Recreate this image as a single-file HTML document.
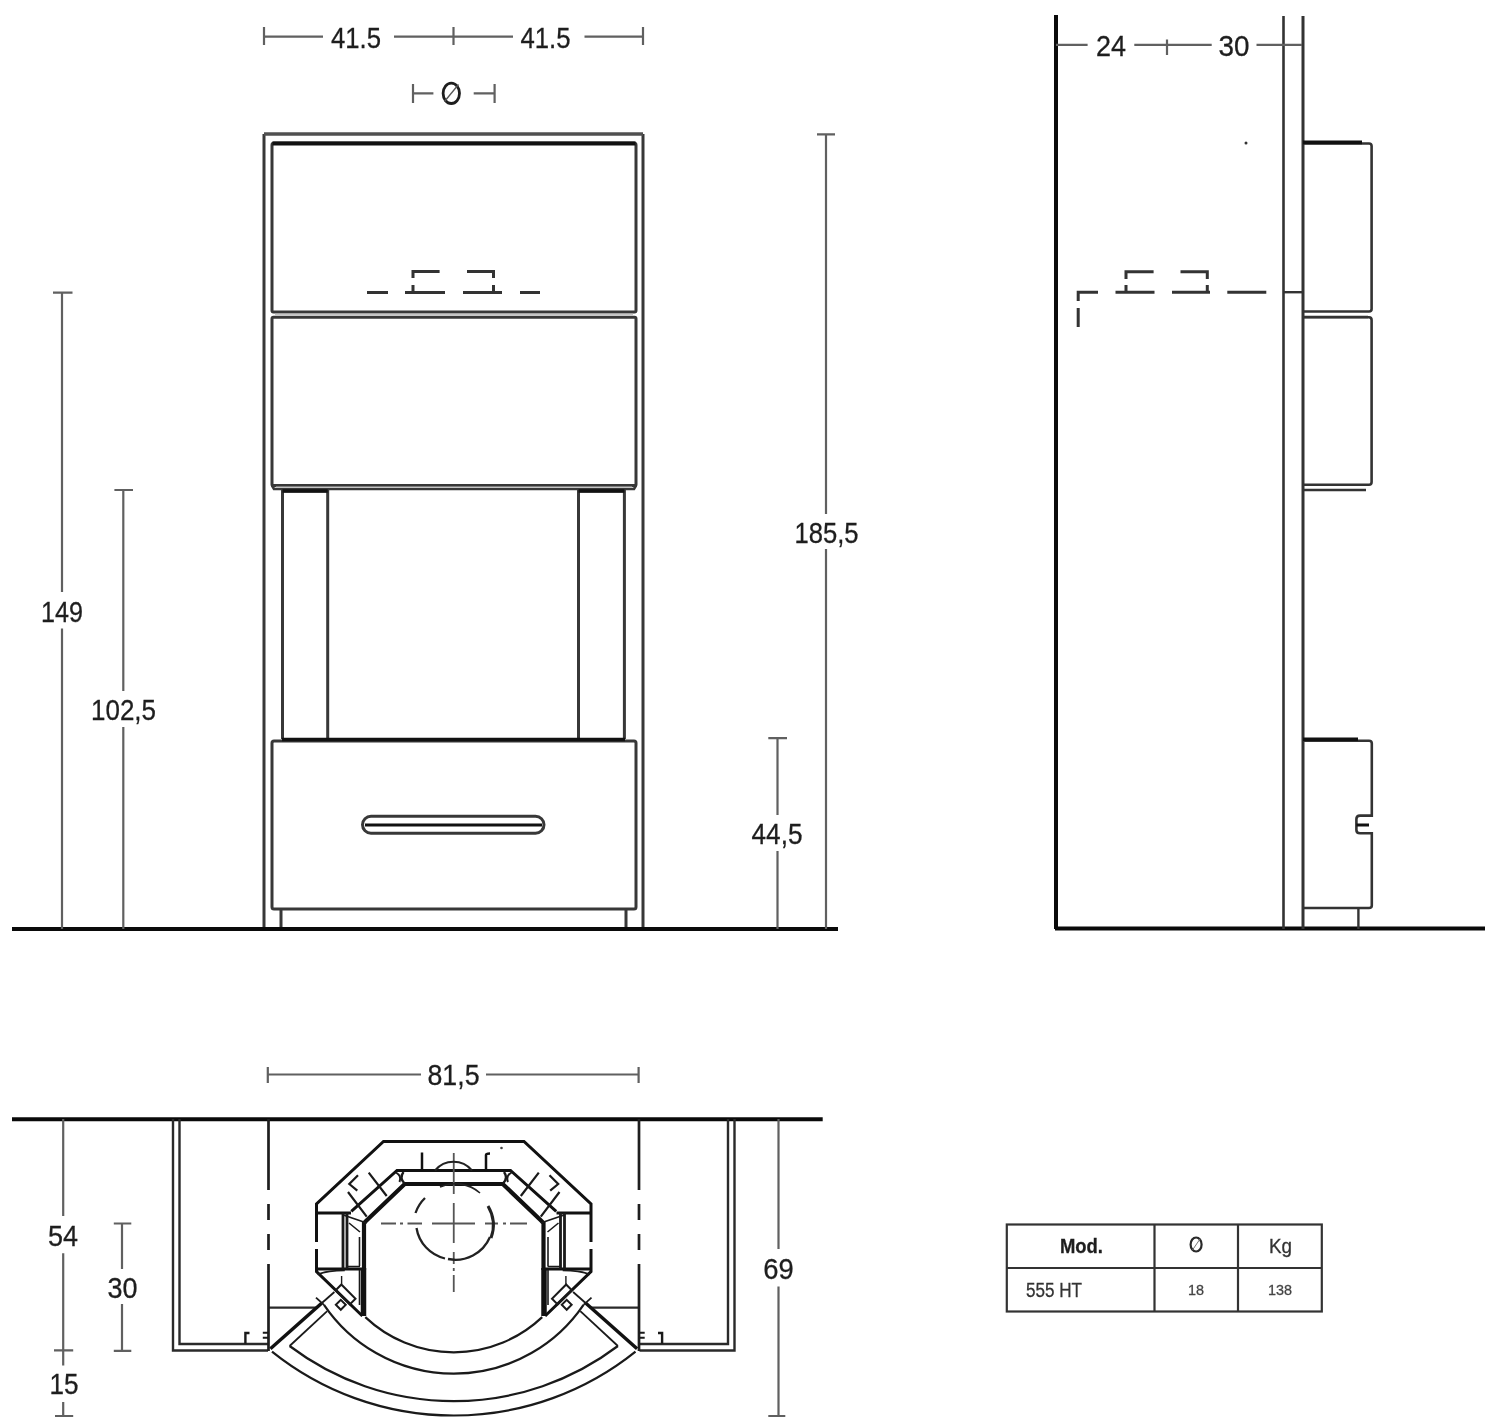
<!DOCTYPE html>
<html><head><meta charset="utf-8">
<style>
.wrap{will-change:transform;}
html,body{margin:0;padding:0;background:#fff;}
svg{display:block;}
text{font-family:"Liberation Sans",sans-serif;fill:#1e1e1e;stroke:#1e1e1e;stroke-width:0.3px;}

</style></head>
<body><div class="wrap">
<svg width="1500" height="1427" viewBox="0 0 1500 1427">
<defs><filter id="soft" x="0" y="0" width="1500" height="1427" filterUnits="userSpaceOnUse"><feGaussianBlur stdDeviation="2"/></filter></defs>
<rect width="1500" height="1427" fill="#fff"/>
<g>
<!-- ===== FRONT VIEW ===== -->
<g fill="none" stroke="#383838" stroke-width="3">
  <!-- outer frame -->
  <path d="M264,929 V134 M643,134 V929"/>
  <!-- panel 1 -->
  <path d="M274,143 H634 Q636,143 636,145 V310.5 Q636,312 634.5,312 H273.5 Q272,312 272,310.5 V145 Q272,143 274,143 Z"/>
  <!-- panel 2 -->
  <path d="M273.5,317.2 H634.5 Q636,317.2 636,318.7 V484.5 Q636,485.5 635,485.5 H273 Q272,485.5 272,484.5 V318.7 Q272,317.2 273.5,317.2 Z"/>
  <path d="M272,485.5 L274,489 H634 L636,485.5" stroke-width="2.6"/>
  <!-- pillars -->
  <path d="M282.5,739 V491 H327.7 V739"/>
  <path d="M578.5,739 V491 H624.4 V739"/>
  <!-- drawer -->
  <path d="M274,741 H634 Q636,741 636,743 V907 Q636,909 634,909 H274 Q272,909 272,907 V743 Q272,741 274,741 Z"/>
  <path d="M281,909 V929 M626,909 V929"/>
  <!-- handle -->
  <path d="M371,816.3 H535.5 A8.5,8.5 0 0 1 535.5,833.3 H371 A8.5,8.5 0 0 1 371,816.3 Z"/>
</g>
<g stroke="#111" fill="none">
  <path d="M264,134 H643" stroke-width="3.4" stroke="#505050"/>
  <path d="M272.5,143.5 H635.5" stroke-width="4.2"/>
  <path d="M282.5,491 H327.7 M578.5,491 H624.4" stroke-width="3.4"/>
  <path d="M282,739.5 H625" stroke-width="3.6"/>
  <path d="M365,825 H542" stroke-width="3.2"/>
</g>
<path d="M275,314.6 H633 M276,487.3 H632" stroke="#c4c4c4" stroke-width="1.6" fill="none"/>
<!-- dashed flue -->
<g stroke="#333" stroke-width="3" fill="none">
  <path d="M367,292.5 H388 M405,292.5 H445 M463,292.5 H502 M520,292.5 H540"/>
  <path d="M413,292.5 V285 M413,278 V271.5 H439.6"/>
  <path d="M493.5,292.5 V285 M493.5,278 V271.5 H467"/>
</g>
<!-- floor -->
<path d="M12,929 H838" stroke="#0a0a0a" stroke-width="4.2"/>

<!-- front dims -->
<g stroke="#606060" stroke-width="2.2" fill="none">
  <path d="M264,36.7 H323 M394,36.7 H513 M584.5,36.7 H643"/>
  <path d="M264,27 V45 M453.5,27 V45 M643,27 V45"/>
  <path d="M413,93.4 H433.4 M473.7,93.4 H494.6 M413,84 V103 M494.6,84 V103"/>
  <path d="M62,292.6 V592 M62,628.4 V929 M53,292.6 H72.5"/>
  <path d="M123.3,490 V691 M123.3,727 V929 M114.4,490 H133"/>
  <path d="M826,134.3 V514 M826,549 V929 M817,134.3 H835"/>
  <path d="M777.5,738.2 V815 M777.5,851 V929 M768.3,738.2 H787"/>
</g>
<g font-size="29.8">
  <text x="331" y="47.9" textLength="50" lengthAdjust="spacingAndGlyphs">41.5</text>
  <text x="520.5" y="47.9" textLength="50" lengthAdjust="spacingAndGlyphs">41.5</text>
  <text x="41" y="621.8" textLength="42" lengthAdjust="spacingAndGlyphs">149</text>
  <text x="91" y="720.1" textLength="65" lengthAdjust="spacingAndGlyphs">102,5</text>
  <text x="794.5" y="542.8" textLength="64" lengthAdjust="spacingAndGlyphs">185,5</text>
  <text x="751.5" y="844" textLength="51" lengthAdjust="spacingAndGlyphs">44,5</text>
</g>
<g fill="none" stroke="#1e1e1e"><ellipse cx="451.3" cy="93.3" rx="8.2" ry="10.2" stroke-width="2.8"/><path d="M444.5,101.5 L458.5,84.5" stroke-width="1.3" stroke="#555"/></g>

<!-- ===== SIDE VIEW ===== -->
<path d="M1056,15 V929" stroke="#0a0a0a" stroke-width="4"/>
<path d="M1055,928.5 H1485" stroke="#0a0a0a" stroke-width="4"/>
<g fill="none" stroke="#333">
  <path d="M1283.5,16 V929" stroke-width="2.6"/>
  <path d="M1303,16 V929" stroke-width="3"/>
  <path d="M1283.5,292.2 H1303" stroke-width="2.4"/>
  <!-- block 1 -->
  <path d="M1303,143.5 H1369 Q1371.6,143.5 1371.6,146 V309 Q1371.6,311.5 1369,311.5 H1303" stroke-width="2.6"/>
  <path d="M1303,317 H1368" stroke-width="2.6"/>
  <!-- block 2 -->
  <path d="M1303,317.2 H1369 Q1371.6,317.2 1371.6,320 V482 Q1371.6,484.8 1369,484.8 H1303" stroke-width="2.6"/>
  <path d="M1303,490 H1366" stroke-width="2.6"/>
  <!-- block 3 -->
  <path d="M1303,740.8 H1369 Q1371.8,740.8 1371.8,743.5 V815.6 H1360 Q1356.4,815.6 1356.4,819 V830 Q1356.4,833.3 1360,833.3 H1371.8 V905.5 Q1371.8,908 1369,908 H1303" stroke-width="2.6"/>
  <path d="M1358.4,908 V929" stroke-width="2.4"/>
</g>
<g stroke="#111" fill="none">
  <path d="M1303,142.4 H1362" stroke-width="3.6"/>
  <path d="M1303,739.3 H1358" stroke-width="3.6"/>
  <path d="M1356.4,825 H1369" stroke-width="3"/>
</g>
<g stroke="#333" stroke-width="3" fill="none">
  <path d="M1078.2,327 V308 M1078.2,301 V292.2 H1098 M1115.5,292.2 H1154.5 M1172,292.2 H1210 M1227.3,292.2 H1266.3"/>
  <path d="M1126,292.2 V285 M1126,279 V271.7 H1153.6"/>
  <path d="M1207.3,292.2 V285 M1207.3,279 V271.7 H1180.5"/>
</g>
<circle cx="1246" cy="143" r="1.5" fill="#333"/>
<g stroke="#606060" stroke-width="2.2" fill="none">
  <path d="M1056,44.8 H1087.6 M1134.3,44.8 H1211.7 M1256.5,44.8 H1302 M1167,39.6 V55"/>
</g>
<g font-size="29.8">
  <text x="1096" y="56" textLength="30" lengthAdjust="spacingAndGlyphs">24</text>
  <text x="1218.6" y="56" textLength="31" lengthAdjust="spacingAndGlyphs">30</text>
</g>

<!-- ===== PLAN VIEW ===== -->
<path d="M12,1119.2 H822.7" stroke="#0a0a0a" stroke-width="4"/>
<g id="half">
<g fill="none" stroke="#2a2a2a" stroke-width="2.4">
  <path d="M173,1119 V1350.5 H268"/>
  <path d="M179.5,1119 V1344 H268"/>
  <path d="M268,1307.6 H317.6" stroke-width="2.2"/>
</g>
<g fill="none" stroke="#111" stroke-width="3">
  <path d="M268.5,1119 V1190 M268.5,1204 V1220 M268.5,1234 V1250 M268.5,1264 V1351" stroke-width="2.7" stroke="#1e1e1e"/>
  <path d="M454,1141.5 H383.5 L316.5,1204 V1242 M316.5,1249 V1271.5 L362.4,1316"/>
  <path d="M454,1170.5 H397 L351.3,1211.3"/>
  <path d="M316.5,1213 H351"/>
  <path d="M316.5,1269 H364"/>
  <path d="M270.4,1348.8 L321.6,1303.2" stroke-width="3.4"/>
</g>
<g fill="none" stroke="#111" stroke-width="4.2">
  <path d="M454,1184 H404.7 L366,1221 L364,1223 V1270"/>
</g>
<path d="M363.5,1268 V1316" stroke="#111" stroke-width="5.5" fill="none"/>
<g fill="none" stroke="#1a1a1a" stroke-width="2.2">
  <path d="M343,1213 V1269 M347,1213 V1269" stroke-width="2.8"/>
  <path d="M348,1192 L366.7,1216.7 M368.7,1172.7 L386.7,1196"/>
  <path d="M403.5,1172 Q399,1178 404.5,1183.5" stroke-width="2.4"/>
  <path d="M396,1172.5 Q402,1176 399.5,1182" stroke-width="2"/>
  <path d="M358,1175.3 L349.3,1184 L357.3,1190.7"/>
  <path d="M343.3,1215 L366.7,1223" stroke-width="1.8"/>
  <path d="M349,1223 L360,1232 M359.5,1237 V1266 M347,1266.5 H360" stroke-width="1.6"/>
  <path d="M359.5,1270 V1305" stroke-width="1.6"/>
  <path d="M317.6,1274.4 Q328,1270.5 344.8,1270.4" stroke-width="1.8"/>
  <path d="M321.6,1303.2 L334.4,1292" stroke-width="1.8"/>
  <path d="M316,1297.6 L324,1304.8" stroke-width="1.8"/>
  <path d="M289.6,1346 L327.2,1311.2" stroke-width="1.8"/>
  <rect x="335.6" y="1290.4" width="20" height="8" transform="rotate(45 345.6 1294.4)" stroke-width="2"/>
  <rect x="337.3" y="1301.3" width="7" height="7" transform="rotate(45 340.8 1304.8)" stroke-width="2"/>
  <path d="M341.6,1276 V1284" stroke-width="1.4"/>
  <path d="M245.4,1343.7 V1333 H249.5" stroke-width="2.4"/>
  <path d="M262.8,1332.8 H268 M262.8,1337.8 H268" stroke-width="2"/>
</g>
</g>
<use href="#half" transform="translate(907.5,0) scale(-1,1)"/>
<g fill="none" stroke="#1a1a1a" stroke-width="2.2">
  <!-- arcs -->
  <path d="M365.3,1317.1 A128.7,128.7 0 0 0 542.2,1317.1"/>
  <path d="M324,1304.8 A156.7,156.7 0 0 0 583.5,1304.8"/>
  <path d="M289.6,1346 A272,272 0 0 0 617.9,1346"/>
  <path d="M272,1351.6 A290.4,290.4 0 0 0 635.5,1351.6"/>
</g>
<!-- center lines & flue -->
<g fill="none" stroke="#555" stroke-width="1.8">
  <path d="M381,1223.5 H396 M400,1223.5 H403 M407.5,1223.5 H422 M432,1223.5 H475 M485,1223.5 H498 M503,1223.5 H506 M510,1223.5 H527"/>
  <path d="M453.75,1153 V1194 M453.75,1203 V1243 M453.75,1252 V1264 M453.75,1268 V1271 M453.75,1275 V1292"/>
</g>
<g fill="none" stroke="#222" stroke-width="2.3">
  <path d="M425,1198 A37.5,37.5 0 0 0 415.5,1213"/>
  <path d="M416.5,1228 A37.5,37.5 0 0 0 445,1258.5"/>
  <path d="M448,1259 A37.5,37.5 0 0 0 490,1237"/>
  <path d="M488,1206 A37.5,37.5 0 0 1 491,1238" stroke-width="3"/>
  <path d="M440,1187 A37.5,37.5 0 0 1 480,1193" stroke-width="1.6"/>
</g>
<path d="M435,1170.5 A24,24 0 0 1 472,1170.5" fill="none" stroke="#222" stroke-width="2"/>
<g fill="none" stroke="#111" stroke-width="2.5">
  <path d="M422,1152.5 V1170.5"/>
  <path d="M486,1170.5 V1155 Q486,1153.5 490,1153.5"/>
</g>
<circle cx="501.5" cy="1148" r="1.3" fill="#444"/>

<!-- plan dims -->
<g stroke="#606060" stroke-width="2.2" fill="none">
  <path d="M267.8,1074.5 H421 M486,1074.5 H638.6 M267.8,1067 V1083 M638.6,1067 V1083"/>
  <path d="M63.2,1119 V1216 M63.2,1253.3 V1365.5 M63.2,1402 V1416 M54,1350.4 H73.2 M55,1416 H73.2"/>
  <path d="M122,1223.5 V1269 M122,1304 V1350.8 M113.8,1223.5 H131.3 M113.8,1350.8 H131.3"/>
  <path d="M778.5,1119 V1249 M778.5,1286.4 V1416 M768.3,1416 H785.3"/>
</g>
<g font-size="29.8">
  <text x="427.5" y="1085.3" textLength="52" lengthAdjust="spacingAndGlyphs">81,5</text>
  <text x="48" y="1246.1" textLength="30" lengthAdjust="spacingAndGlyphs">54</text>
  <text x="107.5" y="1297.9" textLength="30" lengthAdjust="spacingAndGlyphs">30</text>
  <text x="49.5" y="1394.1" textLength="29" lengthAdjust="spacingAndGlyphs">15</text>
  <text x="763.3" y="1278.6" textLength="30.5" lengthAdjust="spacingAndGlyphs">69</text>
</g>

<!-- ===== TABLE ===== -->
<g fill="none" stroke="#333" stroke-width="2.2">
  <rect x="1006.8" y="1224.5" width="315" height="87"/>
  <path d="M1006.8,1268 H1321.8 M1154.5,1224.5 V1311.5 M1238,1224.5 V1311.5"/>
</g>
<g style="stroke-width:0.2px">
<text x="1060" y="1253.2" font-size="20" font-weight="bold" textLength="43" lengthAdjust="spacingAndGlyphs">Mod.</text>
<g fill="none" stroke="#2a2a2a"><ellipse cx="1196.1" cy="1244.5" rx="5.5" ry="7" stroke-width="2.2"/><path d="M1192.5,1250 L1200,1239" stroke-width="1" stroke="#777"/></g>
<text x="1269" y="1252.7" font-size="20" textLength="23" lengthAdjust="spacingAndGlyphs" style="fill:#333;stroke:#333">Kg</text>
<text x="1026" y="1296.8" font-size="19.5" textLength="56" lengthAdjust="spacingAndGlyphs" style="fill:#333;stroke:#333">555 HT</text>
<text x="1188" y="1295.2" font-size="15.5" textLength="16" lengthAdjust="spacingAndGlyphs" style="fill:#444;stroke:#444">18</text>
<text x="1268" y="1295.2" font-size="15.5" textLength="24" lengthAdjust="spacingAndGlyphs" style="fill:#444;stroke:#444">138</text>
</g>
</g>
</svg>
</div></body></html>
